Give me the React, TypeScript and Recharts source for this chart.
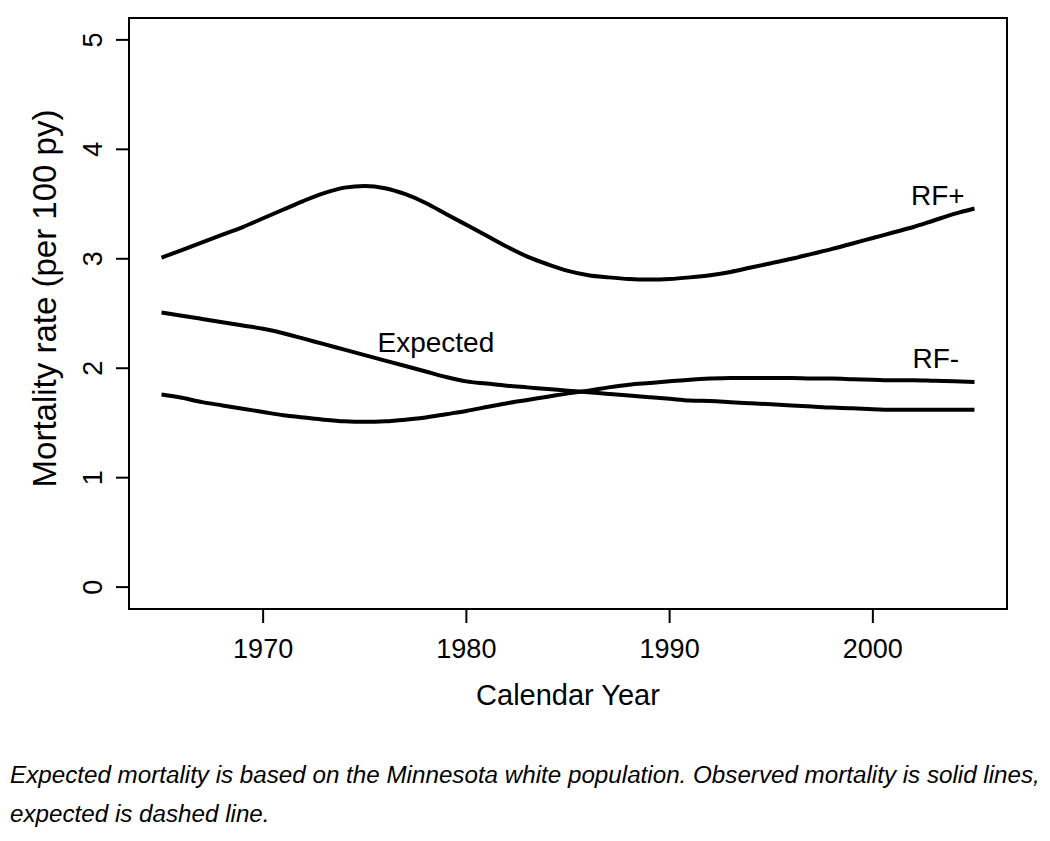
import React from 'react';
import { LineChart, Line, XAxis, YAxis, ReferenceArea, ReferenceDot } from 'recharts';

const years = [1965,1966,1967,1968,1969,1970,1971,1972,1973,1974,1975,1976,1977,1978,1979,1980,1981,1982,1983,1984,1985,1986,1987,1988,1989,1990,1991,1992,1993,1994,1995,1996,1997,1998,1999,2000,2001,2002,2003,2004,2005];
const rfPlus = [3.01,3.08,3.15,3.22,3.29,3.37,3.45,3.53,3.60,3.65,3.665,3.645,3.59,3.51,3.41,3.31,3.21,3.11,3.02,2.95,2.89,2.85,2.83,2.815,2.81,2.815,2.83,2.85,2.88,2.92,2.96,3.00,3.045,3.09,3.14,3.19,3.24,3.29,3.35,3.41,3.46];
const expected = [2.51,2.48,2.45,2.42,2.39,2.36,2.32,2.27,2.22,2.17,2.12,2.07,2.02,1.97,1.92,1.88,1.86,1.84,1.825,1.81,1.795,1.78,1.765,1.75,1.735,1.72,1.705,1.70,1.69,1.68,1.67,1.66,1.65,1.64,1.635,1.625,1.62,1.62,1.62,1.62,1.62];
const rfMinus = [1.76,1.73,1.69,1.66,1.63,1.60,1.57,1.55,1.53,1.515,1.51,1.515,1.53,1.55,1.58,1.61,1.645,1.68,1.71,1.74,1.77,1.795,1.825,1.85,1.865,1.88,1.895,1.905,1.91,1.91,1.91,1.91,1.905,1.905,1.90,1.895,1.89,1.89,1.885,1.88,1.875];

const xTicks = [1970, 1980, 1990, 2000];
const yTicks = [0, 1, 2, 3, 4, 5];

const seriesLabels = [
  { text: 'RF+', year: 2003.2, value: 3.58 },
  { text: 'Expected', year: 1978.5, value: 2.24 },
  { text: 'RF-', year: 2003.1, value: 2.09 },
];

const captionLines = [
  'Expected mortality is based on the Minnesota white population. Observed mortality is solid lines,',
  'expected is dashed line.',
];

const data = years.map((y, i) => ({ year: y, rfPlus: rfPlus[i], expected: expected[i], rfMinus: rfMinus[i] }));

const FONT = '"Liberation Sans", Arial, Helvetica, sans-serif';

const YTick = (props: any) => {
  const { y, payload } = props;
  const cx = 93;
  return (
    <text x={cx} y={y} dy="0.35em" textAnchor="middle" transform={`rotate(-90, ${cx}, ${y})`}
      fontSize={27} fontFamily={FONT} fill="#000">{payload.value}</text>
  );
};

const LabelText = (text: string) => (props: any) => {
  const vb = props.viewBox || {};
  const x = vb.x + (vb.width || 0) / 2;
  const y = vb.y + (vb.height || 0) / 2;
  return (
    <text x={x} y={y} dy="0.35em" textAnchor="middle" fontSize={28} fontFamily={FONT} fill="#000">{text}</text>
  );
};

export default function App() {
  return (
    <div style={{ position: 'absolute', left: 0, top: 0, width: 1050, height: 841, background: '#fff', fontFamily: FONT }}>
      <LineChart width={1050} height={730} data={data} margin={{ top: 18, right: 43, left: 0, bottom: 0 }}>
        <XAxis dataKey="year" type="number" domain={[1963.4, 2006.6]} ticks={xTicks} allowDataOverflow
          height={121} axisLine={false} tickSize={14} tickMargin={16}
          tickLine={{ stroke: '#000', strokeWidth: 2 }}
          tick={{ fontSize: 27, fill: '#000', fontFamily: FONT }}
          label={{ value: 'Calendar Year', position: 'center', dy: 25, fontSize: 29, fill: '#000', fontFamily: FONT }} />
        <YAxis type="number" domain={[-0.2, 5.2]} ticks={yTicks} allowDataOverflow width={129}
          axisLine={false} tickSize={13} tickLine={{ stroke: '#000', strokeWidth: 2 }} tick={<YTick />}
          label={{ value: 'Mortality rate (per 100 py)', angle: -90, position: 'center', dx: -20, dy: -15, fontSize: 33, fill: '#000', fontFamily: FONT }} />
        <ReferenceArea x1={1963.4} x2={2006.6} y1={-0.2} y2={5.2} fill="none" stroke="#000" strokeWidth={2} ifOverflow="visible" />
        <Line dataKey="rfPlus" type="monotone" stroke="#000" strokeWidth={4} dot={false} isAnimationActive={false} />
        <Line dataKey="expected" type="monotone" stroke="#000" strokeWidth={4} dot={false} isAnimationActive={false} />
        <Line dataKey="rfMinus" type="monotone" stroke="#000" strokeWidth={4} dot={false} isAnimationActive={false} />
        {seriesLabels.map((l) => (
          <ReferenceDot key={l.text} x={l.year} y={l.value} r={0} fill="none" stroke="none"
            label={{ content: LabelText(l.text) }} />
        ))}
      </LineChart>
      <svg width={1050} height={111} style={{ position: 'absolute', left: 0, top: 730 }}>
        {captionLines.map((t, i) => (
          <text key={i} x={10} y={53 + i * 39} fontSize={24.2} fontStyle="italic" fontFamily={FONT} fill="#000">{t}</text>
        ))}
      </svg>
    </div>
  );
}
